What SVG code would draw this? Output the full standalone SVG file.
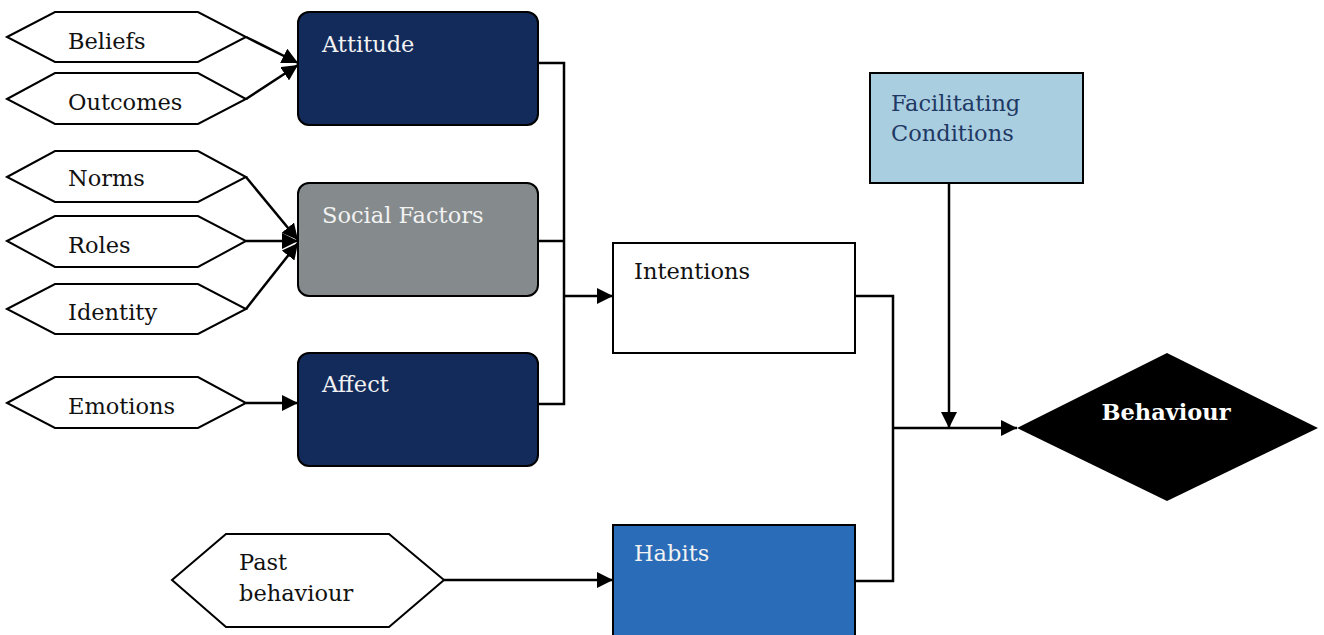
<svg xmlns="http://www.w3.org/2000/svg" width="1324" height="635" viewBox="0 0 1324 635">
<defs>
<marker id="ah" markerUnits="userSpaceOnUse" markerWidth="17" markerHeight="16" refX="16" refY="8" orient="auto">
<path d="M0,0 L16,8 L0,16 z" fill="#000"/>
</marker>
<style>
.hex{fill:#fff;stroke:#000;stroke-width:2}
.t{font-family:"DejaVu Serif","Liberation Serif",serif;font-size:22.5px;fill:#111}
.w{fill:#f2f2f2}
.box{stroke:#000;stroke-width:2}
.c{fill:none;stroke:#000;stroke-width:2.5}
</style>
</defs>
<rect width="1324" height="635" fill="#fff"/>
<g id="beliefs"><polygon class="hex" points="7,37 55,12 198,12 246,37 198,62 55,62"/><text class="t" x="68" y="49">Beliefs</text></g>
<g id="outcomes"><polygon class="hex" points="7,99 55,73 198,73 246,99 198,124 55,124"/><text class="t" x="68" y="110">Outcomes</text></g>
<g id="norms"><polygon class="hex" points="7,177 55,151 198,151 246,177 198,202 55,202"/><text class="t" x="68" y="186">Norms</text></g>
<g id="roles"><polygon class="hex" points="7,241 55,216 198,216 246,241 198,267 55,267"/><text class="t" x="68" y="253">Roles</text></g>
<g id="identity"><polygon class="hex" points="7,309 55,284 198,284 246,309 198,334 55,334"/><text class="t" x="68" y="320">Identity</text></g>
<g id="emotions"><polygon class="hex" points="7,403 55,377 198,377 246,403 198,428 55,428"/><text class="t" x="68" y="414">Emotions</text></g>
<g id="past"><polygon class="hex" points="172,580 226,534 389,534 444,580 389,627 226,627"/><text class="t" x="239" y="570">Past</text><text class="t" x="239" y="601">behaviour</text></g>
<g id="attitude"><rect class="box" x="298" y="12" width="240" height="113" rx="11" fill="#122b5a"/><text class="t w" x="322" y="52">Attitude</text></g>
<g id="social"><rect class="box" x="298" y="183" width="240" height="113" rx="11" fill="#858b8c"/><text class="t w" x="322" y="223">Social Factors</text></g>
<g id="affect"><rect class="box" x="298" y="353" width="240" height="113" rx="11" fill="#122b5a"/><text class="t w" x="322" y="392">Affect</text></g>
<g id="intentions"><rect class="box" x="613" y="243" width="242" height="110" fill="#fff"/><text class="t" x="634" y="279">Intentions</text></g>
<g id="facilitating"><rect class="box" x="870" y="73" width="213" height="110" fill="#a9cee0"/><text class="t" x="891" y="111" style="fill:#1f3864">Facilitating</text><text class="t" x="891" y="141" style="fill:#1f3864">Conditions</text></g>
<g id="habits"><rect class="box" x="613" y="525" width="242" height="120" fill="#2a6cb8"/><text class="t w" x="634" y="561">Habits</text></g>
<g id="behaviour"><polygon points="1017,428 1167,353 1318,428 1167,501" fill="#000"/><text class="t" x="1166" y="420" text-anchor="middle" font-weight="bold" style="fill:#fff">Behaviour</text></g>
<g id="connectors">
<line class="c" x1="246" y1="37" x2="298" y2="63" marker-end="url(#ah)"/>
<line class="c" x1="246" y1="99" x2="298" y2="65" marker-end="url(#ah)"/>
<line class="c" x1="246" y1="177" x2="298" y2="240" marker-end="url(#ah)"/>
<line class="c" x1="246" y1="241" x2="298" y2="241" marker-end="url(#ah)"/>
<line class="c" x1="246" y1="309" x2="298" y2="243" marker-end="url(#ah)"/>
<line class="c" x1="246" y1="403" x2="298" y2="403" marker-end="url(#ah)"/>
<polyline class="c" points="538,63 564,63 564,404 538,404"/>
<line class="c" x1="538" y1="241" x2="564" y2="241"/>
<line class="c" x1="564" y1="296" x2="613" y2="296" marker-end="url(#ah)"/>
<polyline class="c" points="855,296 893,296 893,581 855,581"/>
<line class="c" x1="893" y1="428" x2="1017" y2="428" marker-end="url(#ah)"/>
<line class="c" x1="949" y1="183" x2="949" y2="428" marker-end="url(#ah)"/>
<line class="c" x1="444" y1="580" x2="613" y2="580" marker-end="url(#ah)"/>
</g>
</svg>
